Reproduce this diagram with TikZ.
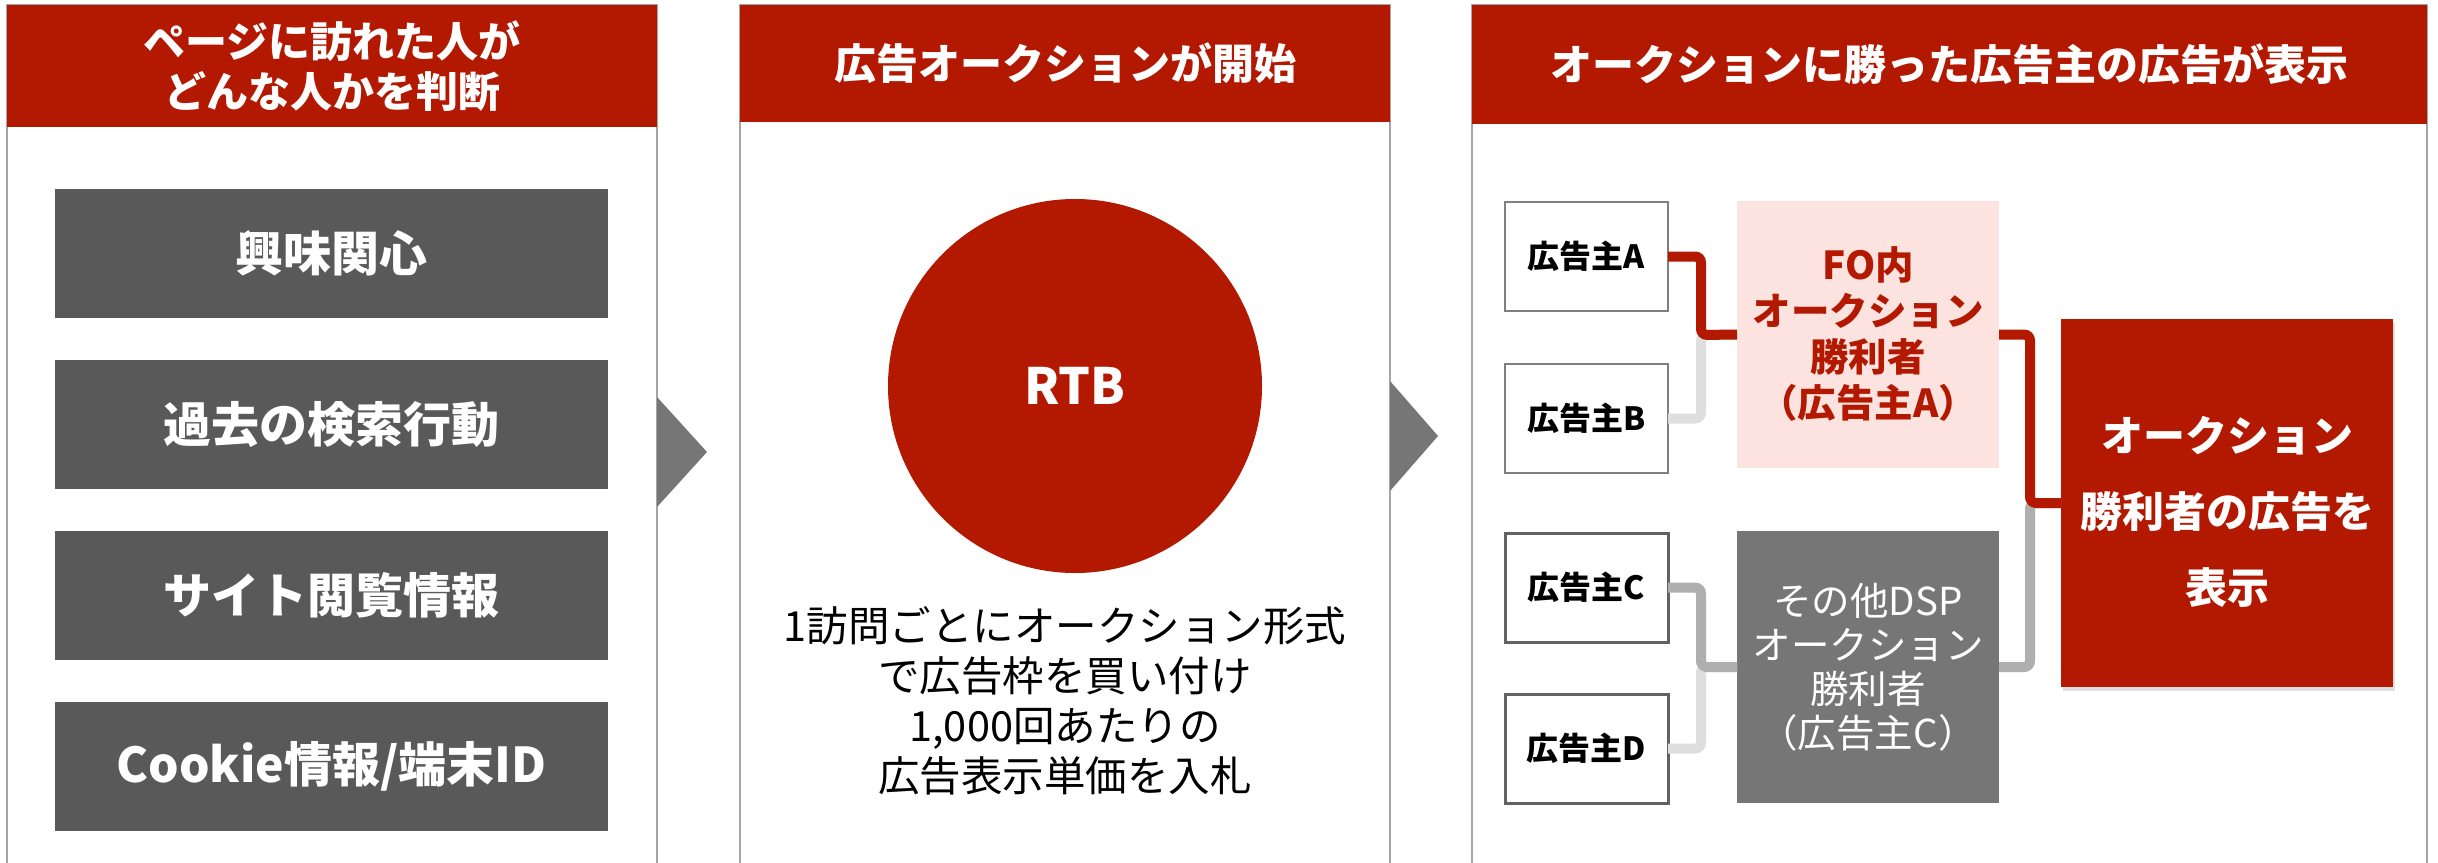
\documentclass[tikz,border=0pt]{standalone}
\usepackage{fontspec}
\setmainfont{Noto Sans CJK JP}
\usetikzlibrary{shadows}
\definecolor{myred}{HTML}{B31800}
\definecolor{boxgray}{HTML}{595959}
\definecolor{trigray}{HTML}{767676}
\definecolor{pinkbg}{HTML}{FDE3E0}
\definecolor{panelline}{HTML}{A5A5A5}
\definecolor{advline}{HTML}{7F7F7F}
\definecolor{advdark}{HTML}{626262}
\definecolor{lightln}{HTML}{DEDEDE}
\definecolor{midln}{HTML}{AFAFAF}
\newcommand\fsz[2]{\fontsize{#1}{#2}\selectfont}
\begin{document}
\begin{tikzpicture}[x=1pt,y=-1pt,
  rectbox/.style={rectangle, anchor=north west, inner sep=0pt, outer sep=0pt},
  panel/.style={rectbox, draw=panelline, line width=2pt, fill=white},
  header/.style={rectbox, fill=myred, text=white, align=center, font=\bfseries\fsz{42}{50}},
  infobox/.style={rectbox, fill=boxgray, text=white, font=\bfseries\fsz{48}{56}, minimum width=553pt, minimum height=129pt},
  advbox/.style={rectbox, draw=advline, line width=2.5pt, fill=white, font=\bfseries\fsz{32}{40}, minimum width=163pt, minimum height=109pt},
  conn/.style={line width=10pt, rounded corners=6pt},
  arrowtri/.style={fill=trigray, draw=none}
]
\useasboundingbox (0,0) rectangle (2438,862);
\clip (0,0) rectangle (2438,862);
\fill[white] (0,0) rectangle (2438,862);

% panels
\node[panel, minimum width=650pt, minimum height=950pt] (p1) at (7,5) {};
\node[panel, minimum width=650pt, minimum height=950pt] (p2) at (740,5) {};
\node[panel, minimum width=955pt, minimum height=950pt] (p3) at (1472,5) {};

\node[header, minimum width=650pt, minimum height=122pt] (h1) at (7,5) {ページに訪れた人が\\どんな人かを判断};
\node[header, minimum width=650pt, minimum height=117pt] (h2) at (740,5) {広告オークションが開始};
\node[header, minimum width=955pt, minimum height=119pt] (h3) at (1472,5) {オークションに勝った広告主の広告が表示};

% step triangles
\fill[arrowtri] (657,397) -- (707,452) -- (657,507) -- cycle;
\fill[arrowtri] (1390,381) -- (1438,436) -- (1390,491) -- cycle;

% panel 1
\node[infobox] (i1) at (55,189) {興味関心};
\node[infobox] (i2) at (55,360) {過去の検索行動};
\node[infobox] (i3) at (55,531) {サイト閲覧情報};
\node[infobox] (i4) at (55,702) {Cookie情報/端末ID};

% panel 2
\node[circle, fill=myred, minimum size=374pt, inner sep=0pt, text=white, font=\bfseries\fsz{50}{60}] (rtb) at (1075,386) {RTB};
\node[align=center, font=\fsz{41.5}{50}, inner sep=0pt] (desc) at (1065,701) {1訪問ごとにオークション形式\\で広告枠を買い付け\\1,000回あたりの\\広告表示単価を入札};

% panel 3
\node[advbox] (A) at (1505,202) {広告主A};
\node[advbox] (B) at (1505,364) {広告主B};
\node[advbox, draw=advdark, line width=3pt] (C) at (1505,533) {広告主C};
\node[advbox, draw=advdark, line width=3pt] (D) at (1505,694) {広告主D};

\node[rectbox, fill=pinkbg, minimum width=262pt, minimum height=267pt, align=center, text=myred, font=\bfseries\fsz{38.5}{46}] (pink) at (1737,201) {FO内\\オークション\\勝利者\\（広告主A）};
\node[rectbox, fill=trigray, minimum width=262pt, minimum height=272pt, align=center, text=white, font=\fsz{38.5}{44}] (dsp) at (1737,531) {その他DSP\\オークション\\勝利者\\（広告主C）};
\node[rectbox, fill=myred, minimum width=332pt, minimum height=368pt, drop shadow={opacity=0.25, shadow xshift=2pt, shadow yshift=-4pt}] (final) at (2061,319) {};
\node[align=center, text=white, font=\bfseries\fsz{42}{76}, inner sep=0pt] (finaltxt) at (2227,512) {オークション\\勝利者の広告を\\表示};

\coordinate (j1) at (1701,335);
\coordinate (j2) at (1701,667);
\coordinate (j3) at (2030,503);

\draw[conn, lightln] (B.east) -| (j1) -- (pink.west);
\draw[conn, myred] (A.east) -| (j1) -- (pink.west);
\draw[conn, lightln] (D.east) -| (j2) -- (dsp.west);
\draw[conn, midln] (C.east) -| (j2) -- (dsp.west);
\draw[conn, midln] (dsp.east) -| (j3) -- (final.west);
\draw[conn, myred] (pink.east) -| (j3) -- (final.west);
\end{tikzpicture}
\end{document}
